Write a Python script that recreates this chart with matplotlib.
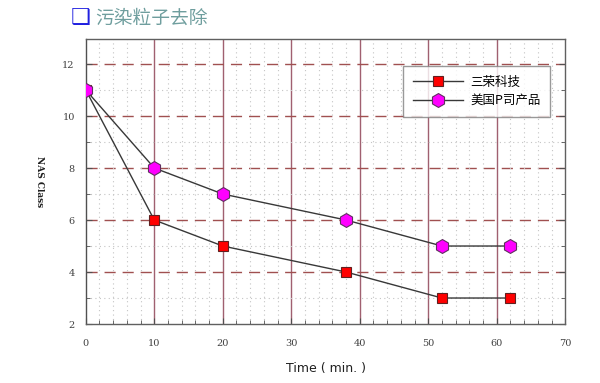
import numpy as np
import matplotlib.pyplot as plt
from matplotlib.ticker import MultipleLocator

plt.rcParams['font.family'] = ['Noto Sans CJK SC', 'DejaVu Sans']

# data
time_min = [0, 10, 20, 38, 52, 62]
sanrong = [11, 6, 5, 4, 3, 3]          # 三荣科技
us_p = [11, 8, 7, 6, 5, 5]             # 美国P司产品
labels = ['三荣科技', '美国P司产品']

fig = plt.figure(figsize=(6, 3.83), dpi=100)
ax = fig.add_axes([0.143, 0.154, 0.799, 0.744])

ax.plot(time_min, sanrong, '-', color='#383838', lw=1.0, marker='s', ms=7.5,
        mfc='#ff0000', mec='#602020', mew=0.8, label=labels[0], zorder=5)
ax.plot(time_min, us_p, '-', color='#383838', lw=1.0, marker='h', ms=10,
        mfc='#ff00ff', mec='#603060', mew=0.8, label=labels[1], zorder=5)

ax.set_xlim(0, 70)
ax.set_ylim(2, 12.96)
ax.xaxis.set_major_locator(MultipleLocator(10))
ax.xaxis.set_minor_locator(MultipleLocator(2))
ax.yaxis.set_major_locator(MultipleLocator(2))
ax.yaxis.set_minor_locator(MultipleLocator(1))

# grid: solid verticals, dashed horizontals, dotted minors
ax.grid(False)
for xv in range(10, 70, 10):
    ax.axvline(xv, color='#a06070', lw=1.0, zorder=1)
for yv in range(4, 13, 2):
    ax.axhline(yv, color='#a05050', lw=1.0, ls=(0, (8, 5)), zorder=1)
ax.grid(which='minor', color='#c4c4c4', ls=(0, (1, 3)), lw=0.8, zorder=0)

for s in ax.spines.values():
    s.set_color('#606060')
    s.set_linewidth(1.0)
ax.spines['left'].set_color('#505050')

ax.tick_params(which='both', direction='in', top=False, right=True,
               colors='#505050', labelsize=7, pad=8)
ax.tick_params(which='major', length=4)
ax.tick_params(which='minor', length=3)
for lab in ax.get_xticklabels() + ax.get_yticklabels():
    lab.set_family('DejaVu Serif')
    lab.set_color('#404040')
ax.tick_params(axis='x', pad=11)

ax.set_xlabel('Time ( min. )', fontsize=9, color='#202020', labelpad=10,
              family='DejaVu Sans')
ax.set_ylabel('NAS Class', fontsize=6.5, color='#202020', rotation=-90,
              labelpad=22, family='DejaVu Serif', fontweight='bold')
ax.yaxis.set_label_coords(-0.105, 0.5)

leg = ax.legend(loc='upper right', bbox_to_anchor=(0.968, 0.905),
                fontsize=9, frameon=True, fancybox=False, borderpad=0.75,
                handlelength=4.0, handletextpad=0.6, labelspacing=0.45,
                borderaxespad=0)
leg.get_frame().set_edgecolor('#808080')
leg.get_frame().set_linewidth(1.0)

# page title
fig.text(0.118, 0.952, '\u2751', fontsize=16, color='#2020e0',
         family=['DejaVu Sans'], va='center')
fig.text(0.158, 0.952, '污染粒子去除', fontsize=13.5, color='#6f9e9e',
         va='center')

fig.savefig('out.png', dpi=100)
